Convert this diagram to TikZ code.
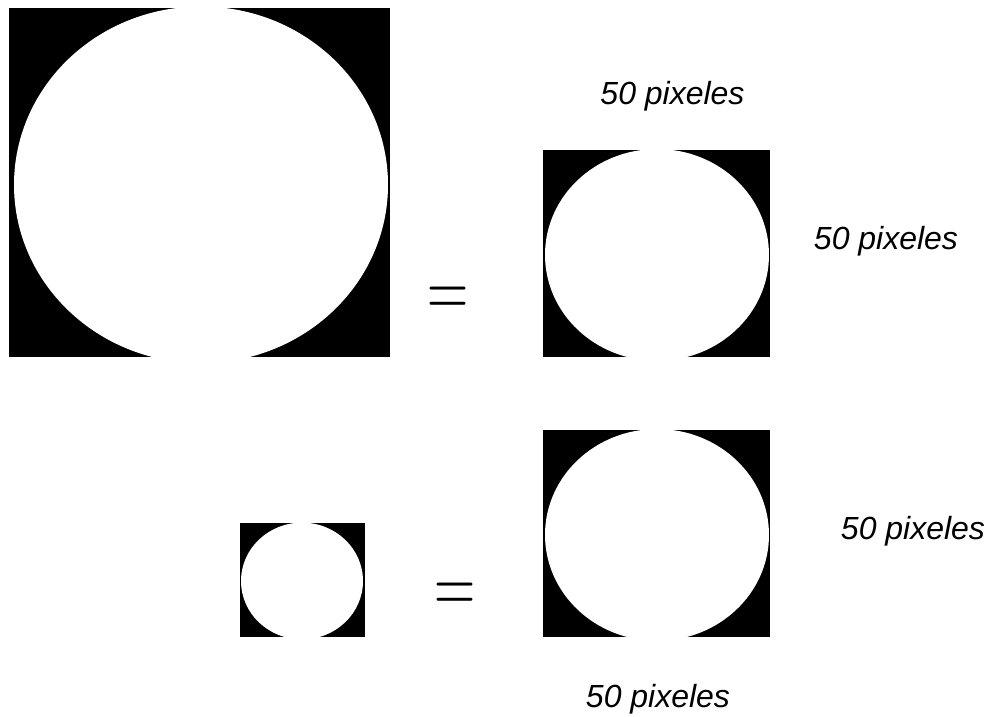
\documentclass[tikz,border=0pt]{standalone}
\usepackage{fontspec}
\setmainfont{Liberation Sans}
\newfontfamily\eqfont{Latin Modern Roman}
\tikzset{
  imgbox/.style ={fill=black,inner sep=0pt,outer sep=0pt},
  disc/.style   ={fill=white},
  lbl/.style    ={font=\fontsize{32}{38}\selectfont\itshape,inner sep=0pt,anchor=base},
  eqsign/.style ={font=\eqfont\fontsize{57}{60}\selectfont,inner sep=0pt,anchor=base},
}

\begin{document}
\begin{tikzpicture}[x=1pt,y=-1pt]
\useasboundingbox (0,0) rectangle (989,717);

%% the four thresholded images
\node[imgbox,minimum width=381pt,minimum height=349pt] (big)   at (199.5,182.5) {};
\node[imgbox,minimum width=227pt,minimum height=207pt] (midA)  at (656.5,253.5) {};
\node[imgbox,minimum width=227pt,minimum height=207pt] (midB)  at (656.5,533.5) {};
\node[imgbox,minimum width=125pt,minimum height=114pt] (small) at (302.5,580)   {};

\begin{scope}
\clip (big.south west) rectangle (big.north east);
\fill[disc] (201,184.8) ellipse [x radius=187,y radius=178.3];
\end{scope}
\begin{scope}
\clip (midA.south west) rectangle (midA.north east);
\fill[disc] (657,254.9) ellipse [x radius=112,y radius=105.9];
\end{scope}
\begin{scope}
\clip (midB.south west) rectangle (midB.north east);
\fill[disc] (657,534.9) ellipse [x radius=112,y radius=105.9];
\end{scope}
\begin{scope}
\clip (small.south west) rectangle (small.north east);
\fill[disc] (302,581) ellipse [x radius=61,y radius=58.4];
\end{scope}

%% equal signs
\node[eqsign] (eqA) at (448,317.4) {\scalebox{1}[1.5]{=}};
\node[eqsign] (eqB) at (455,613.4) {\scalebox{1}[1.5]{=}};

%% sizes
\node[lbl] (wtop)   at (672.5,105) {50 pixeles};
\node[lbl] (hright) at (886,249)   {50 pixeles};
\node[lbl] (hlow)   at (913,539)   {50 pixeles};
\node[lbl] (wlow)   at (658,707)   {50 pixeles};
\end{tikzpicture}
\end{document}
